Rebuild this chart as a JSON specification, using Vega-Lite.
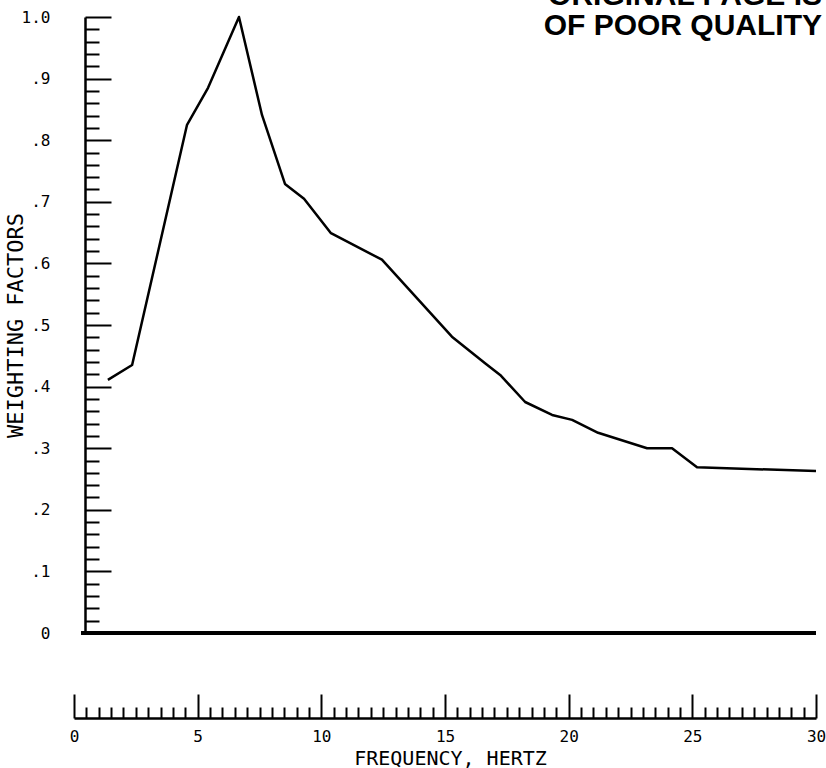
{
  "$schema": "https://vega.github.io/schema/vega-lite/v6.json",
  "autosize": {"type": "none"},
  "width": 742,
  "height": 616,
  "padding": {"left": 74, "top": 17, "right": 10, "bottom": 135},
  "background": "white",
  "title": {
    "text": ["ORIGINAL PAGE IS", "OF POOR QUALITY"],
    "anchor": "end",
    "frame": "group",
    "font": "Liberation Sans",
    "fontWeight": "bold",
    "fontSize": 30,
    "lineHeight": 30,
    "color": "black",
    "dx": 6,
    "dy": 36
  },
  "data": {
    "values": [
      {"freq": 1.37, "weight": 0.411},
      {"freq": 2.35, "weight": 0.435},
      {"freq": 4.57, "weight": 0.825},
      {"freq": 5.42, "weight": 0.885},
      {"freq": 6.67, "weight": 1.0},
      {"freq": 7.6, "weight": 0.841},
      {"freq": 8.53, "weight": 0.729},
      {"freq": 9.3, "weight": 0.705},
      {"freq": 10.39, "weight": 0.649},
      {"freq": 12.45, "weight": 0.606},
      {"freq": 15.28, "weight": 0.481},
      {"freq": 16.62, "weight": 0.438},
      {"freq": 17.23, "weight": 0.419},
      {"freq": 18.24, "weight": 0.375},
      {"freq": 19.33, "weight": 0.354},
      {"freq": 20.14, "weight": 0.346},
      {"freq": 21.19, "weight": 0.325},
      {"freq": 23.17, "weight": 0.3},
      {"freq": 24.18, "weight": 0.3},
      {"freq": 25.19, "weight": 0.269},
      {"freq": 30.0, "weight": 0.263}
    ]
  },
  "layer": [
    {
      "mark": {"type": "rule", "color": "black", "strokeWidth": 2.5},
      "encoding": {
        "x": {"datum": 0.3, "type": "quantitative"},
        "x2": {"datum": 30},
        "y": {"datum": 0, "type": "quantitative"}
      }
    },
    {
      "mark": {"type": "line", "color": "black", "strokeWidth": 2.5, "strokeJoin": "round"},
      "encoding": {
        "x": {
          "field": "freq",
          "type": "quantitative",
          "scale": {"domain": [0, 30], "nice": false, "zero": false},
          "axis": {
            "title": "FREQUENCY, HERTZ",
            "offset": 85,
            "grid": false,
            "domainColor": "black",
            "domainWidth": 2.5,
            "tickColor": "black",
            "tickWidth": 2,
            "tickCount": 500,
            "values": [0,0.5,1,1.5,2,2.5,3,3.5,4,4.5,5,5.5,6,6.5,7,7.5,8,8.5,9,9.5,10,10.5,11,11.5,12,12.5,13,13.5,14,14.5,15,15.5,16,16.5,17,17.5,18,18.5,19,19.5,20,20.5,21,21.5,22,22.5,23,23.5,24,24.5,25,25.5,26,26.5,27,27.5,28,28.5,29,29.5,30],
            "tickSize": {"condition": {"test": "datum.value % 5 == 0", "value": -24}, "value": -11},
            "labelExpr": "datum.value % 5 == 0 ? format(datum.value, 'd') : ''",
            "labelFont": "DejaVu Sans Mono",
            "labelFontSize": 16,
            "labelColor": "black",
            "labelPadding": 34,
            "labelFlush": false,
            "labelOverlap": false,
            "titleFont": "DejaVu Sans Mono",
            "titleFontSize": 20,
            "titleFontWeight": "normal",
            "titleColor": "black",
            "titleX": 376,
            "titleY": 40,
            "titleBaseline": "middle"
          }
        },
        "y": {
          "field": "weight",
          "type": "quantitative",
          "scale": {"domain": [0, 1], "nice": false},
          "axis": {
            "title": "WEIGHTING FACTORS",
            "offset": -11,
            "grid": false,
            "domainColor": "black",
            "domainWidth": 2.5,
            "tickColor": "black",
            "tickWidth": 2,
            "tickCount": 500,
            "values": [0,0.02,0.04,0.06,0.08,0.1,0.12,0.14,0.16,0.18,0.2,0.22,0.24,0.26,0.28,0.3,0.32,0.34,0.36,0.38,0.4,0.42,0.44,0.46,0.48,0.5,0.52,0.54,0.56,0.58,0.6,0.62,0.64,0.66,0.68,0.7,0.72,0.74,0.76,0.78,0.8,0.82,0.84,0.86,0.88,0.9,0.92,0.94,0.96,0.98,1.0],
            "tickSize": {"condition": {"test": "abs(datum.value*10 - round(datum.value*10)) < 0.001", "value": -26}, "value": -14},
            "labelExpr": "abs(datum.value*10 - round(datum.value*10)) < 0.001 ? (datum.value == 0 ? '0' : datum.value > 0.999 ? '1.0' : '.' + round(datum.value*10)) : ''",
            "labelFont": "DejaVu Sans Mono",
            "labelFontSize": 16,
            "labelColor": "black",
            "labelPadding": 61,
            "labelFlush": false,
            "labelOverlap": false,
            "titleFont": "DejaVu Sans Mono",
            "titleFontSize": 22,
            "titleFontWeight": "normal",
            "titleColor": "black",
            "titleAngle": -90,
            "titleX": -70,
            "titleY": 308,
            "titleAlign": "center",
            "titleBaseline": "middle"
          }
        }
      }
    }
  ],
  "config": {"view": {"stroke": null}}
}
